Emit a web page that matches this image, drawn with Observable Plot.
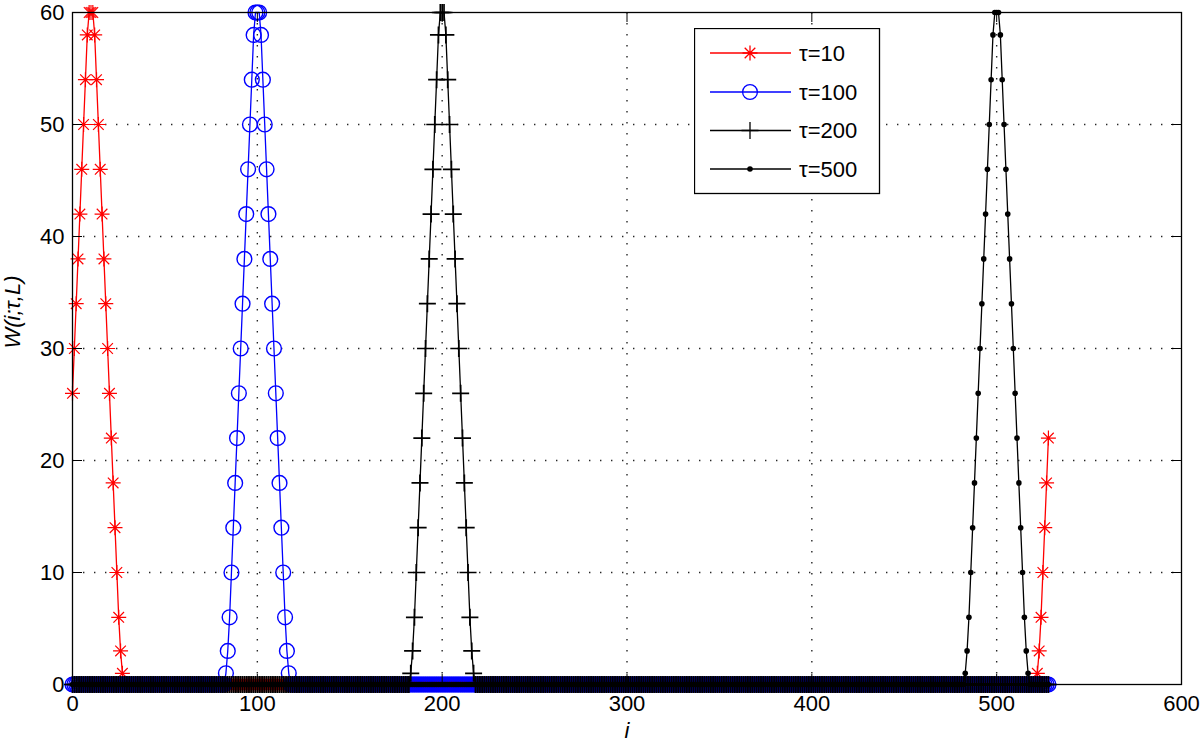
<!DOCTYPE html>
<html><head><meta charset="utf-8">
<script src="https://cdn.jsdelivr.net/npm/d3@7"></script>
<script src="https://cdn.jsdelivr.net/npm/@observablehq/plot@0.6"></script>
<style>
body{margin:0;background:#fff;}
#wrap{position:relative;width:1200px;height:744px;}
#legend{position:absolute;left:694px;top:28px;}
</style></head><body><div id="wrap"></div>
<script>
// index range i = 0..528
const indexFirst = 0;
const indexLast = 528;

// nonzero stretches (start index + values); every other index is 0
const tau10Segments = [
  {start: 0, values: [26,30,34,38,42,46,50,54,58,60,60,60,58,54,50,46,42,38,34,30,26,22,18,14,10,6,3,1]},
  {start: 522, values: [1,3,6,10,14,18,22]}
];
const tau100Segments = [
  {start: 83, values: [1,3,6,10,14,18,22,26,30,34,38,42,46,50,54,58,60,60,60,58,54,50,46,42,38,34,30,26,22,18,14,10,6,3,1]}
];
const tau200Segments = [
  {start: 183, values: [1,3,6,10,14,18,22,26,30,34,38,42,46,50,54,58,60,60,60,58,54,50,46,42,38,34,30,26,22,18,14,10,6,3,1]}
];
const tau500Segments = [
  {start: 483, values: [1,3,6,10,14,18,22,26,30,34,38,42,46,50,54,58,60,60,60,58,54,50,46,42,38,34,30,26,22,18,14,10,6,3,1]}
];

const seriesNames = ["τ=10", "τ=100", "τ=200", "τ=500"];
const xTicks = [0, 100, 200, 300, 400, 500, 600];
const yTicks = [0, 10, 20, 30, 40, 50, 60];

function buildSeries(segments) {
  const lookup = new Map();
  for (const s of segments) s.values.forEach((v, k) => lookup.set(s.start + k, v));
  return d3.range(indexFirst, indexLast + 1).map(i => ({i, w: lookup.has(i) ? lookup.get(i) : 0}));
}
const s10 = buildSeries(tau10Segments);
const s100 = buildSeries(tau100Segments);
const s200 = buildSeries(tau200Segments);
const s500 = buildSeries(tau500Segments);

const asterisk = {draw(ctx, size) {
  const r = Math.sqrt(size / Math.PI), a = r * Math.SQRT1_2;
  ctx.moveTo(-r, 0); ctx.lineTo(r, 0);
  ctx.moveTo(0, -r); ctx.lineTo(0, r);
  ctx.moveTo(-a, -a); ctx.lineTo(a, a);
  ctx.moveTo(-a, a); ctx.lineTo(a, -a);
}};
const plusSym = {draw(ctx, size) {
  const r = Math.sqrt(size / Math.PI);
  ctx.moveTo(-r, 0); ctx.lineTo(r, 0);
  ctx.moveTo(0, -r); ctx.lineTo(0, r);
}};

const W = 1200, H = 744, mL = 72, mR = 19, mT = 12, mB = 60;
const innerW = W - mL - mR, innerH = H - mT - mB;
const font = "'Liberation Sans', Arial, sans-serif";

const chart = Plot.plot({
  width: W, height: H,
  marginLeft: mL, marginRight: mR, marginTop: mT, marginBottom: mB,
  style: {fontFamily: font, fontSize: "22px", background: "#fff", color: "#000"},
  x: {domain: [0, 600]},
  y: {domain: [0, 60]},
  marks: [
    Plot.gridX(xTicks.slice(1, -1), {stroke: "#000", strokeOpacity: 0.85, strokeWidth: 1.4, strokeDasharray: "1.4,9.6"}),
    Plot.gridY(yTicks.slice(1, -1), {stroke: "#000", strokeOpacity: 0.85, strokeWidth: 1.4, strokeDasharray: "1.4,9.6"}),
    Plot.line(s10, {x: "i", y: "w", stroke: "#ff0000", strokeWidth: 1.3}),
    Plot.dot(s10, {x: "i", y: "w", symbol: asterisk, r: 7.5, stroke: "#ff0000", fill: "none", strokeWidth: 1.2}),
    Plot.line(s100, {x: "i", y: "w", stroke: "#0000ff", strokeWidth: 1.3}),
    Plot.dot(s100, {x: "i", y: "w", symbol: "circle", r: 7.4, stroke: "#0000ff", fill: "none", strokeWidth: 1.4}),
    Plot.line(s200, {x: "i", y: "w", stroke: "#000", strokeWidth: 1.3}),
    Plot.dot(s200, {x: "i", y: "w", symbol: plusSym, r: 8.5, stroke: "#000", fill: "none", strokeWidth: 1.7}),
    Plot.line(s500, {x: "i", y: "w", stroke: "#000", strokeWidth: 1.3}),
    Plot.dot(s500, {x: "i", y: "w", r: 2.8, fill: "#000", stroke: "none"}),
    Plot.frame({stroke: "#000", strokeWidth: 1.3}),
    Plot.tickX(xTicks, {x: d => d, stroke: "#000", insetTop: innerH - 10}),
    Plot.tickX(xTicks, {x: d => d, stroke: "#000", insetBottom: innerH - 10}),
    Plot.tickY(yTicks, {y: d => d, stroke: "#000", insetRight: innerW - 10}),
    Plot.tickY(yTicks, {y: d => d, stroke: "#000", insetLeft: innerW - 10}),
    Plot.axisX(xTicks, {tickSize: 0, tickPadding: 11, label: null, fontSize: 22}),
    Plot.axisY(yTicks, {tickSize: 0, tickPadding: 8, label: null, fontSize: 22}),
    Plot.text(["i"], {text: d => d, frameAnchor: "bottom", dy: 53, fontStyle: "italic", fontSize: 22}),
    Plot.text(["W(i;τ,L)"], {text: d => d, frameAnchor: "left", dx: -60, rotate: -90, fontStyle: "italic", fontSize: 22})
  ]
});
const wrap = document.getElementById("wrap");
wrap.appendChild(chart);

// legend overlay
const legendStyles = [
  {name: seriesNames[0], color: "#ff0000", sym: asterisk, r: 7.5, fill: "none"},
  {name: seriesNames[1], color: "#0000ff", sym: d3.symbolCircle, r: 7.4, fill: "none"},
  {name: seriesNames[2], color: "#000", sym: plusSym, r: 8.5, fill: "none"},
  {name: seriesNames[3], color: "#000", sym: d3.symbolCircle, r: 2.8, fill: "#000"}
];
const lg = d3.create("svg").attr("id", "legend").attr("width", 187).attr("height", 167)
  .style("font-family", font).style("font-size", "22px");
lg.append("rect").attr("x", 0.5).attr("y", 0.5).attr("width", 185).attr("height", 165)
  .attr("fill", "#fff").attr("stroke", "#000").attr("stroke-width", 1.3);
const rowY = [25, 64, 102.5, 141];
legendStyles.forEach((s, k) => {
  const g = lg.append("g").attr("transform", `translate(0,${rowY[k]})`);
  g.append("line").attr("x1", 16).attr("x2", 97).attr("stroke", s.color).attr("stroke-width", 1.3);
  g.append("path").attr("transform", "translate(56,0)")
    .attr("d", d3.symbol().type(s.sym).size(Math.PI * s.r * s.r)())
    .attr("fill", s.fill).attr("stroke", s.fill === "none" ? s.color : "none").attr("stroke-width", 1.3);
  g.append("text").attr("x", 105).attr("dy", "0.35em").text(s.name);
});
wrap.appendChild(lg.node());
</script></body></html>
